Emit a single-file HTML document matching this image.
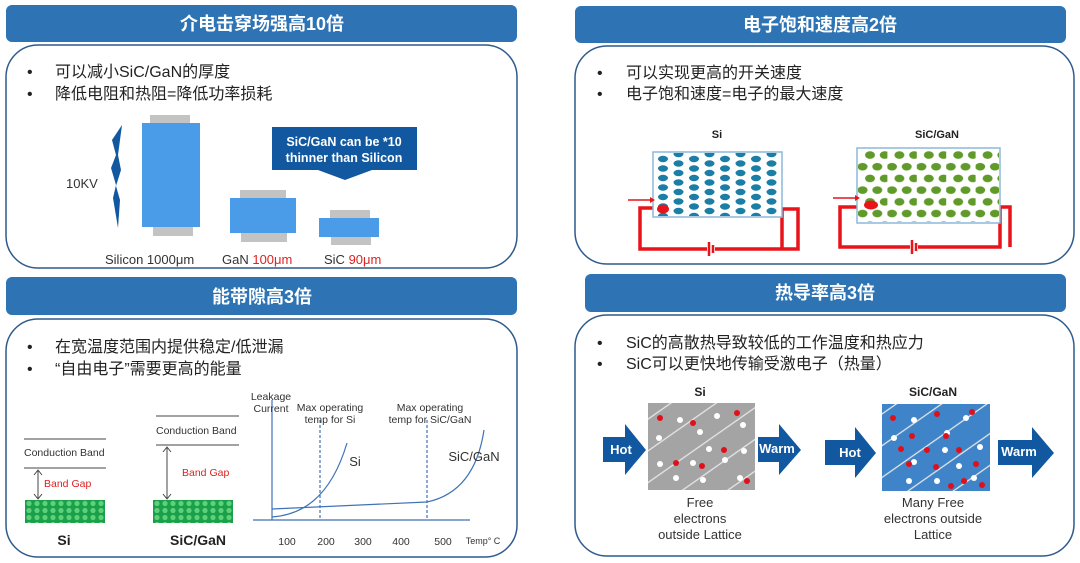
<!DOCTYPE html>
<html><head><meta charset="utf-8"><style>
html,body{margin:0;padding:0;background:#fff;}
svg{display:block;font-family:"Liberation Sans","Noto Sans CJK SC",sans-serif;}
</style></head><body>
<svg width="1080" height="563" viewBox="0 0 1080 563" xmlns="http://www.w3.org/2000/svg">
<defs>
<pattern id="tealdots" x="655" y="154" width="31" height="19" patternUnits="userSpaceOnUse">
<ellipse cx="8" cy="5" rx="5" ry="3.2" fill="#1a7ea6"/><ellipse cx="8" cy="14.5" rx="5" ry="3.2" fill="#1a7ea6"/>
<ellipse cx="23.5" cy="9.5" rx="5" ry="3.2" fill="#1a7ea6"/><ellipse cx="23.5" cy="19" rx="5" ry="3.2" fill="#1a7ea6"/><ellipse cx="23.5" cy="0" rx="5" ry="3.2" fill="#1a7ea6"/>
</pattern>
<pattern id="greendots" x="858" y="150" width="29.4" height="23.4" patternUnits="userSpaceOnUse">
<ellipse cx="12" cy="5" rx="5" ry="3.8" fill="#5f9a2a"/><ellipse cx="26.7" cy="5" rx="5" ry="3.8" fill="#5f9a2a"/>
<ellipse cx="4.6" cy="16.7" rx="5" ry="3.8" fill="#5f9a2a"/><ellipse cx="19.3" cy="16.7" rx="5" ry="3.8" fill="#5f9a2a"/>
</pattern>
<pattern id="latt" x="25" y="500" width="8" height="7" patternUnits="userSpaceOnUse">
<rect width="8" height="7" fill="#1aa04a"/><circle cx="4" cy="3.5" r="2.6" fill="#5fd07a"/>
</pattern>
<pattern id="diag" width="26" height="26" patternUnits="userSpaceOnUse" patternTransform="rotate(-35)">
<line x1="0" y1="13" x2="26" y2="13" stroke="#e8e8e8" stroke-width="1.3"/>
</pattern>
</defs>
<g fill="#2e74b5">
<rect x="6" y="5" width="511" height="37" rx="6"/>
<rect x="575" y="6" width="491" height="37" rx="6"/>
<rect x="6" y="277" width="511" height="38" rx="6"/>
<rect x="585" y="274" width="481" height="38" rx="6"/>
</g>
<g fill="#fff" font-weight="bold" font-size="18" text-anchor="middle">
<text x="262" y="30">介电击穿场强高10倍</text>
<text x="820" y="31">电子饱和速度高2倍</text>
<text x="262" y="303">能带隙高3倍</text>
<text x="825" y="299">热导率高3倍</text>
</g>
<g fill="none" stroke="#2f5a8c" stroke-width="1.5">
<rect x="6" y="45" width="511" height="223" rx="32"/>
<rect x="575" y="46" width="499" height="218" rx="32"/>
<rect x="6" y="319" width="511" height="238" rx="32"/>
<rect x="575" y="315" width="499" height="241" rx="32"/>
</g>
<g font-size="16" fill="#222">
<text x="27" y="77">•</text><text x="55" y="77">可以减小SiC/GaN的厚度</text>
<text x="27" y="99">•</text><text x="55" y="99">降低电阻和热阻=降低功率损耗</text>
<text x="597" y="78">•</text><text x="626" y="78">可以实现更高的开关速度</text>
<text x="597" y="99">•</text><text x="626" y="99">电子饱和速度=电子的最大速度</text>
<text x="27" y="352">•</text><text x="55" y="352">在宽温度范围内提供稳定/低泄漏</text>
<text x="27" y="374">•</text><text x="55" y="374">“自由电子”需要更高的能量</text>
<text x="597" y="348">•</text><text x="626" y="348">SiC的高散热导致较低的工作温度和热应力</text>
<text x="597" y="369">•</text><text x="626" y="369">SiC可以更快地传输受激电子（热量）</text>
</g>
<!-- top-left figure -->
<path d="M122 125 L112 140 L116 155 L111 168 L116 185 L113 198 L118 228 L120 200 L116 186 L121 170 L118 155 Z" fill="#1158a0"/>
<text x="66" y="188" font-size="13" fill="#333">10KV</text>
<g fill="#c3c3c3">
<rect x="150" y="115" width="40" height="9"/><rect x="153" y="227" width="40" height="9"/>
<rect x="240" y="190" width="46" height="9"/><rect x="241" y="232" width="46" height="10"/>
<rect x="330" y="210" width="40" height="9"/><rect x="331" y="236" width="40" height="9"/>
</g>
<g fill="#4a9be8">
<rect x="142" y="123" width="58" height="104"/>
<rect x="230" y="198" width="66" height="35"/>
<rect x="319" y="218" width="60" height="19"/>
</g>
<path d="M272 127 H417 V170 H372 L345 180 L318 170 H272 Z" fill="#1158a0"/>
<text x="344" y="146" font-size="12.5" font-weight="bold" fill="#fff" text-anchor="middle">SiC/GaN can be *10</text>
<text x="344" y="162" font-size="12.5" font-weight="bold" fill="#fff" text-anchor="middle">thinner than Silicon</text>
<g font-size="13" fill="#333">
<text x="105" y="264">Silicon 1000μm</text>
<text x="222" y="264">GaN <tspan fill="#d22">100μm</tspan></text>
<text x="324" y="264">SiC <tspan fill="#d22">90μm</tspan></text>
</g>
<!-- top-right -->
<text x="717" y="138" font-size="11" font-weight="bold" fill="#222" text-anchor="middle">Si</text>
<text x="937" y="138" font-size="11" font-weight="bold" fill="#222" text-anchor="middle">SiC/GaN</text>
<g fill="none" stroke="#e8141a" stroke-width="3.5">
<path d="M655 208 H640 V249 H782 V209 H798 V249 H782"/>
<path d="M858 207 H840 V247 H1000 V207 H1010 V247"/>
</g>
<rect x="653" y="152" width="129" height="65" fill="#fff" stroke="#8bb8d8" stroke-width="1.5"/>
<rect x="654" y="153" width="127" height="63" fill="url(#tealdots)"/>
<rect x="857" y="148" width="143" height="75" fill="#fff" stroke="#8bb8d8" stroke-width="1.5"/>
<rect x="858" y="149" width="141" height="73" fill="url(#greendots)"/>
<ellipse cx="663" cy="209" rx="6" ry="4.5" fill="#e8141a"/>
<ellipse cx="871" cy="205" rx="7" ry="4.5" fill="#e8141a"/>
<g stroke="#e8141a" stroke-width="1.5"><line x1="628" y1="200" x2="650" y2="200"/><line x1="833" y1="198" x2="855" y2="198"/></g>
<path d="M650 197 L655 200 L650 203Z M855 195 L860 198 L855 201Z" fill="#e8141a"/>
<g fill="#fff"><rect x="707" y="244" width="8" height="10"/><rect x="910" y="242" width="8" height="10"/></g>
<g stroke="#e8141a" stroke-width="2.5"><line x1="709" y1="242" x2="709" y2="256"/><line x1="713" y1="245" x2="713" y2="253"/><line x1="912" y1="240" x2="912" y2="254"/><line x1="916" y1="243" x2="916" y2="251"/></g>
<!-- bottom-left -->
<g stroke="#444" stroke-width="1">
<line x1="24" y1="439" x2="106" y2="439"/><line x1="24" y1="468" x2="106" y2="468"/>
<line x1="156" y1="416" x2="239" y2="416"/><line x1="156" y1="445" x2="239" y2="445"/>
<line x1="38" y1="471" x2="38" y2="498"/><line x1="167" y1="448" x2="167" y2="498"/>
</g>
<path d="M34 475 L38 470 L42 475 M34 494 L38 499 L42 494 M163 452 L167 447 L171 452 M163 494 L167 499 L171 494" fill="none" stroke="#444"/>
<g font-size="10.5" fill="#333"><text x="24" y="456">Conduction Band</text><text x="156" y="434">Conduction Band</text></g>
<g font-size="10.5" fill="#d22"><text x="44" y="487">Band Gap</text><text x="182" y="476">Band Gap</text></g>
<rect x="25" y="500" width="80" height="23" fill="url(#latt)"/>
<rect x="153" y="500" width="80" height="23" fill="url(#latt)"/>
<text x="64" y="545" font-size="14" font-weight="bold" fill="#222" text-anchor="middle">Si</text>
<text x="198" y="545" font-size="14" font-weight="bold" fill="#222" text-anchor="middle">SiC/GaN</text>
<g stroke="#3f72b8" fill="none" stroke-width="1.2">
<line x1="272" y1="400" x2="272" y2="520"/><line x1="253" y1="520" x2="470" y2="520"/>
<line x1="320" y1="420" x2="320" y2="520" stroke-dasharray="3,2"/>
<line x1="427" y1="420" x2="427" y2="520" stroke-dasharray="3,2"/>
<path d="M272 517 C300 515 330 500 347 443"/>
<path d="M272 509 L427 502 C460 495 478 470 484 430"/>
</g>
<g font-size="10.5" fill="#333" text-anchor="middle">
<text x="271" y="400">Leakage</text><text x="271" y="412">Current</text>
<text x="330" y="411">Max operating</text><text x="330" y="423">temp for Si</text>
<text x="430" y="411">Max operating</text><text x="430" y="423">temp for SiC/GaN</text>
<text x="287" y="545">100</text><text x="326" y="545">200</text><text x="363" y="545">300</text><text x="401" y="545">400</text><text x="443" y="545">500</text>
<text x="483" y="544" font-size="9">Temp° C</text>
</g>
<text x="355" y="466" font-size="13" fill="#333" text-anchor="middle">Si</text>
<text x="474" y="461" font-size="13" fill="#333" text-anchor="middle">SiC/GaN</text>
<!-- bottom-right -->
<text x="700" y="396" font-size="12" font-weight="bold" fill="#222" text-anchor="middle">Si</text>
<text x="933" y="396" font-size="12" font-weight="bold" fill="#222" text-anchor="middle">SiC/GaN</text>
<rect x="648" y="403" width="107" height="87" fill="#a4a4a4"/>
<rect x="648" y="403" width="107" height="87" fill="url(#diag)"/>
<rect x="882" y="404" width="108" height="87" fill="#3f84c8"/>
<rect x="882" y="404" width="108" height="87" fill="url(#diag)"/>
<g fill="#fff">
<circle cx="680" cy="420" r="3"/><circle cx="659" cy="438" r="3"/><circle cx="700" cy="432" r="3"/><circle cx="717" cy="416" r="3"/><circle cx="743" cy="425" r="3"/>
<circle cx="709" cy="449" r="3"/><circle cx="725" cy="460" r="3"/><circle cx="744" cy="451" r="3"/><circle cx="660" cy="464" r="3"/><circle cx="693" cy="463" r="3"/><circle cx="676" cy="478" r="3"/><circle cx="703" cy="480" r="3"/><circle cx="740" cy="478" r="3"/>
<circle cx="914" cy="420" r="3"/><circle cx="894" cy="438" r="3"/><circle cx="947" cy="433" r="3"/><circle cx="966" cy="418" r="3"/><circle cx="914" cy="462" r="3"/><circle cx="945" cy="450" r="3"/><circle cx="980" cy="447" r="3"/><circle cx="959" cy="466" r="3"/><circle cx="909" cy="481" r="3"/><circle cx="937" cy="481" r="3"/><circle cx="974" cy="478" r="3"/>
</g>
<g fill="#e0101a">
<circle cx="660" cy="418" r="3"/><circle cx="693" cy="423" r="3"/><circle cx="737" cy="413" r="3"/><circle cx="724" cy="450" r="3"/><circle cx="676" cy="463" r="3"/><circle cx="702" cy="466" r="3"/><circle cx="747" cy="481" r="3"/>
<circle cx="893" cy="418" r="3"/><circle cx="937" cy="414" r="3"/><circle cx="972" cy="412" r="3"/><circle cx="912" cy="436" r="3"/><circle cx="946" cy="436" r="3"/><circle cx="901" cy="449" r="3"/><circle cx="927" cy="450" r="3"/><circle cx="959" cy="450" r="3"/><circle cx="909" cy="464" r="3"/><circle cx="936" cy="467" r="3"/><circle cx="976" cy="464" r="3"/><circle cx="951" cy="486" r="3"/><circle cx="964" cy="481" r="3"/><circle cx="982" cy="485" r="3"/>
</g>
<g fill="#1158a0">
<path d="M603 437 H625 V424 L646 450 L625 475 V462 H603Z"/>
<path d="M758 437 H779 V424 L801 450 L779 475 V462 H758Z"/>
<path d="M825 440 H855 V427 L876 453 L855 478 V465 H825Z"/>
<path d="M998 440 H1032 V427 L1054 453 L1032 478 V465 H998Z"/>
</g>
<g fill="#fff" font-size="13" font-weight="bold" text-anchor="middle">
<text x="621" y="454">Hot</text><text x="777" y="453">Warm</text><text x="850" y="457">Hot</text><text x="1019" y="456">Warm</text>
</g>
<g font-size="13" fill="#333" text-anchor="middle">
<text x="700" y="507">Free</text><text x="700" y="523">electrons</text><text x="700" y="539">outside Lattice</text>
<text x="933" y="507">Many Free</text><text x="933" y="523">electrons outside</text><text x="933" y="539">Lattice</text>
</g>
</svg>
</body></html>
